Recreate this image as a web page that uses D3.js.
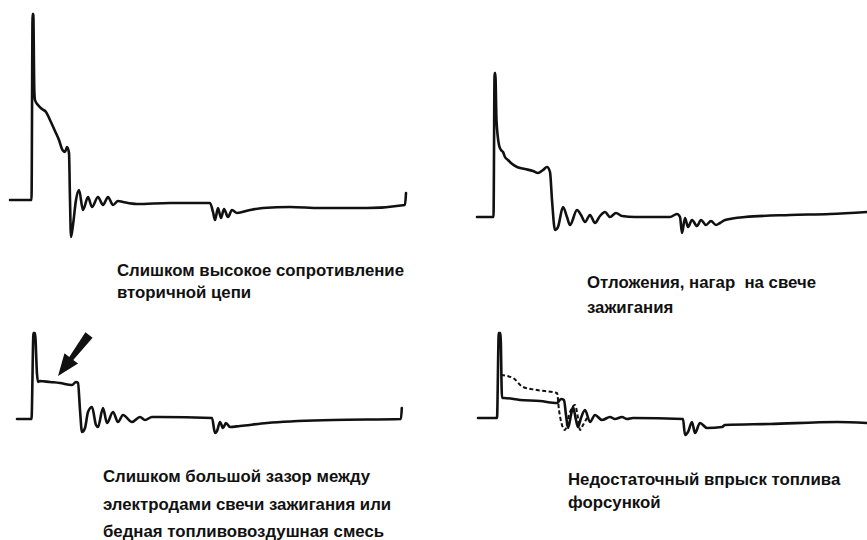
<!DOCTYPE html>
<html><head><meta charset="utf-8">
<script src="https://cdn.jsdelivr.net/npm/d3@7"></script>
<style>
html,body{margin:0;padding:0;background:#fff;}
svg{display:block;}
text{font-family:"Liberation Sans",Arial,sans-serif;font-weight:bold;font-size:16.8px;fill:#111;white-space:pre;}
</style></head>
<body>
<svg id="c" width="867" height="540"></svg>
<script>
// ---- Data: [time units, voltage units] for each waveform ----
const wave1 = [[0,0],[21.5,0],[22.6,186],[23.3,186],[24.3,110],[25,100],[28,95],[32,91],[36,88],[40,80],[45,69],[49,60],[52,51],[55,48],[57,53],[59,47],[60,0],[61,-37],[63,-25],[66,0],[69,10],[73,-10],[78,3],[82,-7],[88,3],[93,-5],[98,3],[103,-5],[108,-1],[113,-2],[127,-4],[160,-3],[200,-3],[203,-12],[205,-20],[208,-8],[211,-18],[214,-9],[218,-17],[222,-10],[227,-13],[240,-10],[253,-8],[280,-7],[310,-8],[357,-8],[395,-5],[396,7]];
const wave2 = [[0,0],[16.5,0],[17.6,144],[18.3,144],[19.5,97],[22,72],[24,67],[26,65],[28,60],[31,57],[34,54],[40,50],[48,48],[56,46],[61,44],[66,47],[70,50],[73,45],[75,17],[78,-13],[81,-10],[86,10],[90,0],[93,-8],[100,7],[104,2],[108,-5],[113,2],[118,-6],[123,1],[128,5],[133,0],[139,4],[145,1],[158,0],[193,0],[200,3],[203,0],[205,-16],[208,-1],[211,-10],[215,-3],[220,-9],[224,-3],[229,-8],[234,-4],[239,-8],[243,-6],[248,-3],[268,0],[313,2],[353,3],[390,5]];
const wave3 = [[0,0],[14.5,0],[16.5,86],[18,86],[20,45],[21,37],[23,38],[33,37],[43,36],[55,34],[59,37],[61,36],[63,9],[65,-13],[68,-9],[71,7],[75,12],[79,-6],[81,-8],[86,11],[90,-4],[96,7],[101,-3],[106,4],[115,-3],[123,2],[128,-1],[135,2],[143,2],[195,1],[198,-14],[200,-12],[203,-3],[206,-9],[209,-4],[213,-8],[223,-7],[250,-4],[316,-1],[384,0],[384.8,11]];
const wave4 = [[0,0],[19,0],[20.8,85],[22.5,85],[24,20],[26,20],[42,18],[62,17],[79,15],[83,19],[86,18],[88,3],[90,-10],[93,3],[95,11],[98,-2],[100,-9],[103,0],[107,8],[112,-4],[117,3],[124,-2],[132,1],[137,-1],[144,1],[149,-1],[155,0],[205,-1],[207,-17],[210,-14],[214,-4],[217,-15],[222,-5],[229,-10],[244,-9],[247,-7],[292,-6],[359,-4],[389,-5]];
const wave4dash = [[23,43],[35,40],[45,31],[59,28],[79,25],[81,8],[84,-7],[87,-12],[91,3],[97,13],[100,0],[102,-12],[105,-7],[109,0]];
const arrow3 = [[72,84],[41,43]];

const captions = [
  ["Слишком высокое сопротивление","вторичной цепи"],
  ["Отложения, нагар  на свече","зажигания"],
  ["Слишком большой зазор между","электродами свечи зажигания или","бедная топливовоздушная смесь"],
  ["Недостаточный впрыск топлива","форсункой"]
];

// ---- Layout ----
const panels = [
  {left:10, base:200, waves:[wave1], cap:{x:117,y:276,dy:22}},
  {left:477, base:217, waves:[wave2], cap:{x:587,y:288,dy:25}},
  {left:17, base:419, waves:[wave3], arrow:arrow3, cap:{x:103,y:482,dy:27.5}},
  {left:478, base:418, waves:[wave4], dash:wave4dash, cap:{x:568,y:485,dy:23}}
];

const svg = d3.select("#c");
panels.forEach((p,i)=>{
  const x = d3.scaleLinear().domain([0,400]).range([p.left,p.left+400]);
  const y = d3.scaleLinear().domain([0,100]).range([p.base,p.base-100]);
  const line = d3.line().x(d=>x(d[0])).y(d=>y(d[1])).curve(d3.curveMonotoneX);
  const g = svg.append("g");
  p.waves.forEach(w=>{
    g.append("path").attr("d",line(w)).attr("fill","none").attr("stroke","#111")
      .attr("stroke-width",2.6).attr("stroke-linejoin","round").attr("stroke-linecap","round");
  });
  if(p.dash){
    g.append("path").attr("d",line(p.dash)).attr("fill","none").attr("stroke","#111")
      .attr("stroke-width",2).attr("stroke-dasharray","4,2.5");
  }
  if(p.arrow){
    const [a,b] = p.arrow;
    const x0=x(a[0]),y0=y(a[1]),x1=x(b[0]),y1=y(b[1]);
    const dx=x1-x0,dy=y1-y0,L=Math.hypot(dx,dy),ux=dx/L,uy=dy/L,nx=-uy,ny=ux;
    const hl=22,hw=8.5,sw0=4.5,sw1=2.5;
    const bx=x1-ux*hl,by=y1-uy*hl;
    const pts=[[x0+nx*sw0,y0+ny*sw0],[bx+nx*sw1,by+ny*sw1],[bx+nx*hw,by+ny*hw],[x1,y1],
      [bx-nx*hw,by-ny*hw],[bx-nx*sw1,by-ny*sw1],[x0-nx*sw0,y0-ny*sw0]];
    g.append("path").attr("d",d3.line()(pts)+"Z").attr("fill","#111");
  }
  const t = g.append("text").attr("x",p.cap.x).attr("y",p.cap.y);
  captions[i].forEach((s,k)=>{
    t.append("tspan").attr("x",p.cap.x).attr("y",p.cap.y+k*p.cap.dy).text(s);
  });
});
</script>
</body></html>
